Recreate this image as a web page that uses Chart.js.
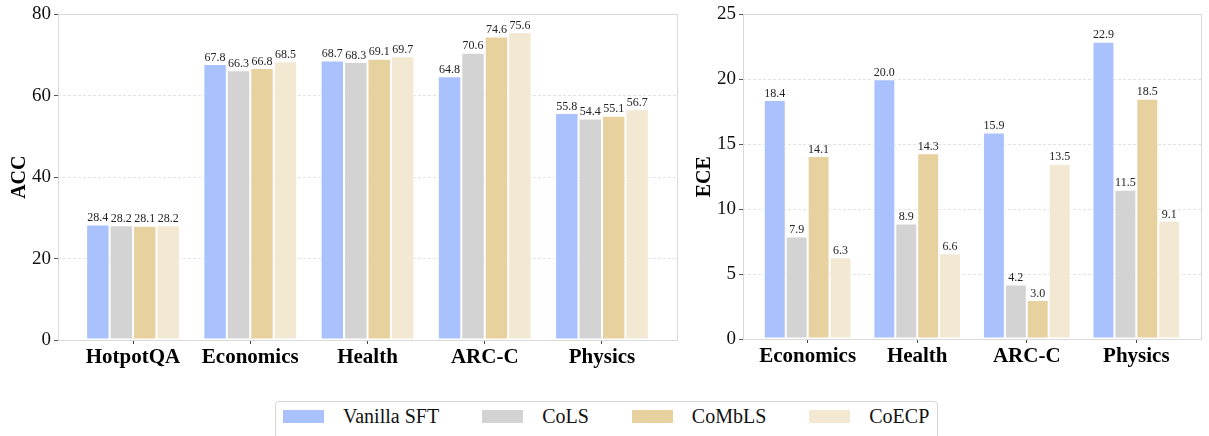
<!DOCTYPE html>
<html>
<head>
<meta charset="utf-8">
<script src="https://cdn.jsdelivr.net/npm/chart.js@4/dist/chart.umd.min.js"></script>
<style>
  html, body { margin: 0; padding: 0; background: #fff; }
  body { width: 1209px; height: 436px; position: relative; overflow: hidden; }
  canvas { position: absolute; top: 0; }
  #accCanvas { left: 0; }
  #eceCanvas { left: 690px; }
  #legend {
    position: absolute; left: 275px; top: 401px; width: 663px; height: 44px;
    border: 1px solid #d6d6d6; border-radius: 4px; box-sizing: border-box;
    display: flex; align-items: flex-start; padding: 2px 0 0 7px;
    font-family: "Liberation Serif", "Times New Roman", serif; font-size: 20px; color: #111;
  }
  .item { display: flex; align-items: center; height: 24px; margin-right: 43px; }
  .item:last-child { margin-right: 0; }
  .sw { width: 41px; height: 13px; margin-right: 19px; }
</style>
</head>
<body>
<canvas id="accCanvas" width="686" height="380"></canvas>
<canvas id="eceCanvas" width="519" height="380"></canvas>
<div id="legend"></div>
<script>
// Methods compared and their bar colours
const methods = ['Vanilla SFT', 'CoLS', 'CoMbLS', 'CoECP'];
const methodColors = ['#a9c1fd', '#d3d3d3', '#e7d19f', '#f3e9d2'];

// Accuracy panel
const accCategories = ['HotpotQA', 'Economics', 'Health', 'ARC-C', 'Physics'];
const accVanilla = [28.4, 67.8, 68.7, 64.8, 55.8];
const accCoLS    = [28.2, 66.3, 68.3, 70.6, 54.4];
const accCoMbLS  = [28.1, 66.8, 69.1, 74.6, 55.1];
const accCoECP   = [28.2, 68.5, 69.7, 75.6, 56.7];
const accTicks   = [0, 20, 40, 60, 80];

// Calibration error panel
const eceCategories = ['Economics', 'Health', 'ARC-C', 'Physics'];
const eceVanilla = [18.4, 20.0, 15.9, 22.9];
const eceCoLS    = [7.9, 8.9, 4.2, 11.5];
const eceCoMbLS  = [14.1, 14.3, 3.0, 18.5];
const eceCoECP   = [6.3, 6.6, 13.5, 9.1];
const eceTicks   = [0, 5, 10, 15, 20, 25];

const SERIF = '"Liberation Serif", "Times New Roman", serif';

// Value labels above each bar
const valueLabels = {
  id: 'valueLabels',
  afterDatasetsDraw(chart) {
    const ctx = chart.ctx;
    ctx.save();
    ctx.font = '12px ' + SERIF;
    ctx.fillStyle = '#222';
    ctx.textAlign = 'center';
    ctx.textBaseline = 'bottom';
    chart.data.datasets.forEach((ds, i) => {
      chart.getDatasetMeta(i).data.forEach((bar, j) => {
        ctx.fillText(ds.values[j].toFixed(1), bar.x, bar.y - 0.5);
      });
    });
    ctx.restore();
  }
};

// Light frame around the plotting area
const frame = {
  id: 'frame',
  afterDraw(chart) {
    const a = chart.chartArea, ctx = chart.ctx;
    ctx.save();
    ctx.strokeStyle = '#d9d9d9';
    ctx.lineWidth = 1;
    ctx.strokeRect(Math.round(a.left) + 0.5, Math.round(a.top) + 0.5,
                   Math.round(a.right - a.left), Math.round(a.bottom - a.top));
    ctx.restore();
  }
};

function makeDatasets(series) {
  return series.map((vals, i) => ({
    label: methods[i],
    values: vals,
    data: vals.map((v, k) => ({ x: k, y: v })),
    backgroundColor: methodColors[i],
    borderColor: '#ffffff',
    borderWidth: 1,
    borderSkipped: false
  }));
}

function buildChart(canvasId, cats, series, yMax, ticks, title, opts) {
  // groups span 0.8 of a slot; the axis keeps a 5% margin beyond the outer bars
  const lo = -0.4, hi = cats.length - 1 + 0.4, pad = 0.05 * (hi - lo);
  return new Chart(document.getElementById(canvasId), {
    type: 'bar',
    data: { datasets: makeDatasets(series) },
    options: {
      responsive: false,
      animation: false,
      devicePixelRatio: 1,
      layout: { padding: { left: 0, right: opts.padRight, top: 12, bottom: 0 } },
      datasets: { bar: { barPercentage: 1.0, categoryPercentage: 0.8 } },
      plugins: { legend: { display: false }, tooltip: { enabled: false } },
      scales: {
        x: {
          type: 'linear',
          offset: false,
          min: lo - pad, max: hi + pad,
          afterBuildTicks(s) { s.ticks = cats.map((_, k) => ({ value: k })); },
          grid: { display: true, offset: false, drawOnChartArea: false, drawTicks: true, tickLength: 4,
                  tickColor: '#444', color: '#444' },
          border: { display: false },
          ticks: { color: '#000', padding: 1, autoSkip: false, maxRotation: 0,
                   callback: (v) => cats[v],
                   font: { family: SERIF, size: 21, weight: 'bold' } },
          afterFit(s) { s.height = opts.xHeight; }
        },
        y: {
          min: 0, max: yMax,
          afterBuildTicks(s) { s.ticks = ticks.map(v => ({ value: v })); },
          grid: { color: '#e3e3e3', lineWidth: 1, tickLength: 4, tickColor: '#555', tickBorderDash: [] },
          border: { display: false, dash: [3, 2] },
          ticks: { color: '#111', padding: 3, font: { family: SERIF, size: 19 } },
          title: { display: true, text: title, color: '#000', padding: { top: opts.titlePad, bottom: 0 },
                   font: { family: SERIF, size: 20, weight: 'bold' } },
          afterFit(s) { s.width = opts.yWidth; }
        }
      }
    },
    plugins: [valueLabels, frame]
  });
}

buildChart('accCanvas', accCategories, [accVanilla, accCoLS, accCoMbLS, accCoECP], 80, accTicks, 'ACC',
  { padRight: 9, xHeight: 40, yWidth: 58, titlePad: 8 });
buildChart('eceCanvas', eceCategories, [eceVanilla, eceCoLS, eceCoMbLS, eceCoECP], 25, eceTicks, 'ECE',
  { padRight: 8, xHeight: 41, yWidth: 53, titlePad: 3 });

// Shared legend
const legend = document.getElementById('legend');
methods.forEach((m, i) => {
  const item = document.createElement('div');
  item.className = 'item';
  const sw = document.createElement('span');
  sw.className = 'sw';
  sw.style.background = methodColors[i];
  const txt = document.createElement('span');
  txt.textContent = m;
  item.appendChild(sw);
  item.appendChild(txt);
  legend.appendChild(item);
});
</script>
</body>
</html>
